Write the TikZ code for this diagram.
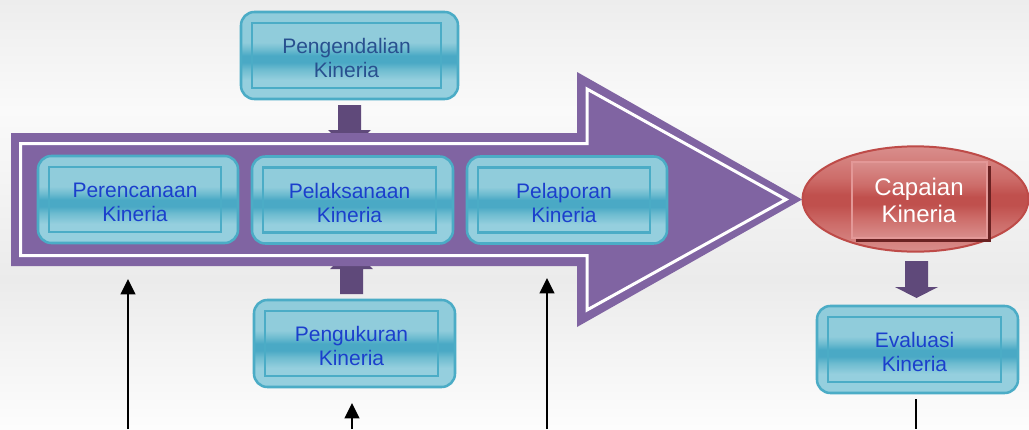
\documentclass[tikz,border=0pt]{standalone}
\usepackage{fontspec}
\setmainfont{Liberation Sans}
\usetikzlibrary{shapes.geometric,arrows.meta}
\definecolor{bg1}{HTML}{EDEDED}
\definecolor{bg2}{HTML}{FAFAFA}
\definecolor{bg3}{HTML}{EBEBEB}
\definecolor{bg4}{HTML}{FDFDFD}
\definecolor{cyL}{HTML}{95CFDE}
\definecolor{cyU}{HTML}{90CCDB}
\definecolor{cyM}{HTML}{6EBCD0}
\definecolor{cyD}{HTML}{4AA9C5}
\definecolor{cyB}{HTML}{4BACC6}
\definecolor{rdL}{HTML}{D98E8C}
\definecolor{rdM}{HTML}{CD6D6A}
\definecolor{rdD}{HTML}{C0504D}
\definecolor{rdB}{HTML}{BE4B48}
\definecolor{rdE}{HTML}{E39897}
\definecolor{capS}{HTML}{6A2222}
\definecolor{bigP}{HTML}{8064A2}
\definecolor{stubP}{HTML}{5F497A}
\definecolor{tblue}{HTML}{1B3FCC}
\definecolor{tdark}{HTML}{28508F}
\pgfdeclareverticalshading{cyshade}{100bp}{color(0bp)=(cyL); color(25bp)=(cyL); color(36bp)=(cyL); color(42bp)=(cyM); color(46bp)=(cyD); color(50bp)=(cyD); color(53.5bp)=(cyM); color(57.5bp)=(cyU); color(75bp)=(cyU); color(100bp)=(cyU)}
\pgfdeclareverticalshading{rdshade}{100bp}{color(0bp)=(rdL); color(25bp)=(rdL); color(38bp)=(rdM); color(47bp)=(rdD); color(52bp)=(rdD); color(60bp)=(rdM); color(75bp)=(rdL); color(100bp)=(rdL)}
\tikzset{
  cbox/.style={draw=cyB, line width=1.9pt, rounded corners=10pt, shade, shading=cyshade, minimum height=65.25pt, inner sep=0pt},
  cinner/.style={draw=cyB, line width=1.6pt, minimum height=48.75pt, inner sep=0pt},
  ctext/.style={align=center, inner sep=0pt, font=\fontsize{15.75}{18}\selectfont},
  blk/.style={line width=1.5pt, -{Triangle[width=11pt,length=11.5pt]}},
  blkline/.style={line width=1.6pt},
  stub/.style={fill=stubP},
}
\newcommand\kbox[6]{%
  \node[cbox, minimum width=#4*0.75pt] (#1) at (#2,#3) {};
  \node[cinner, minimum width=#4*0.75pt-21pt] (#1i) at ([xshift=-2.25pt]#1.center) {};
  \node[ctext, text=#6] (#1t) at ([xshift=-2.25pt,yshift=-1.9pt]#1.center) {#5};
}
\begin{document}
\begin{tikzpicture}[x=0.75pt,y=-0.75pt]
\useasboundingbox (0,0) rectangle (1029,429);
% background
\fill[top color=bg1, bottom color=bg2] (0,0) rectangle (1029,110);
\fill[top color=bg2, bottom color=bg3] (0,109.5) rectangle (1029,280);
\fill[top color=bg3, bottom color=bg4] (0,279.5) rectangle (1029,429);
% stub block arrows hidden under the big arrow
\fill[stub] (338,105) -- (361,105) -- (361,130) -- (371,130) -- (349.5,150) -- (328,130) -- (338,130) -- cycle;
\fill[stub] (340,294) -- (363,294) -- (363,269) -- (373,269) -- (351.5,249) -- (330,269) -- (340,269) -- cycle;
% big arrow
\fill[bigP] (11,133) -- (577,133) -- (577,72) -- (802,199.5) -- (577,327) -- (577,266) -- (11,266) -- cycle;
\draw[white, line width=2.25pt] (20.5,143.5) -- (587,143.5) -- (587,89) -- (786,199.5) -- (587,310) -- (587,255.5) -- (20.5,255.5) -- cycle;
% boxes
\kbox{pr}{138}{199.5}{200}{Perencanaan\\Kineria}{tblue}
\kbox{pl}{352.5}{200}{201}{Pelaksanaan\\Kineria}{tblue}
\kbox{pp}{567}{200}{200}{Pelaporan\\Kineria}{tblue}
\kbox{pg}{349.5}{55.5}{217}{Pengendalian\\Kineria}{tdark}
\kbox{pu}{354.5}{343.5}{201}{Pengukuran\\Kineria}{tblue}
\kbox{ev}{917.5}{349.5}{201}{Evaluasi\\Kineria}{tblue}
% Capaian
\node[ellipse, draw=rdB, line width=1.5pt, shade, shading=rdshade, minimum width=169.5pt, minimum height=79pt, inner sep=0pt] (cap) at (915.5,199) {};
\fill[capS] (855.5,165.5) rectangle (990.5,241.5);
\node[draw=rdE, line width=1.2pt, shade, shading=rdshade, minimum width=101.25pt, minimum height=57pt, inner sep=0pt] (capi) at (919.5,200) {};
\node[align=center, inner sep=0pt, text=white, font=\fontsize{18}{20.25}\selectfont] (capt) at (919,200.5) {Capaian\\Kineria};
% stub from Capaian to Evaluasi
\fill[stub] (905,261) -- (928,261) -- (928,287) -- (938,287) -- (916.5,298) -- (895,287) -- (905,287) -- cycle;
% black arrows
\coordinate (a1s) at (128,429); \coordinate (a1e) at (128,279);
\coordinate (a2s) at (352,429); \coordinate (a2e) at (352,403);
\coordinate (a3s) at (547,429); \coordinate (a3e) at (547,278);
\coordinate (e1) at (916,429);
\draw[blk] (a1s) -- (a1e);
\draw[blk] (a2s) -- (a2e);
\draw[blk] (a3s) -- (a3e);
\draw[blkline] ([yshift=-3.75pt]ev.south -| e1) -- (e1);
\end{tikzpicture}
\end{document}
